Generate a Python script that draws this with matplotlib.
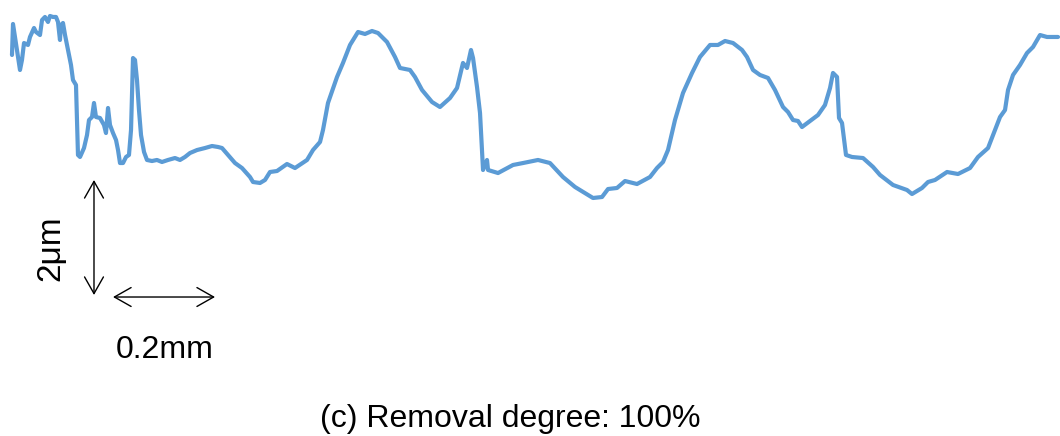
import matplotlib
matplotlib.use("Agg")
import matplotlib.pyplot as plt

plt.rcParams['font.family'] = ['Liberation Sans', 'DejaVu Sans']

# Surface profile: lateral position (mm) and height (um)
position_mm = [
    0.0235, 0.0255, 0.0333, 0.0392, 0.0431, 0.0471, 0.0549, 0.0588, 0.0667, 0.0706,
    0.0784, 0.0824, 0.0882, 0.0941, 0.0980, 0.1039, 0.1098, 0.1137, 0.1176, 0.1196,
    0.1235, 0.1275, 0.1333, 0.1392, 0.1431, 0.1490, 0.1529, 0.1569, 0.1647, 0.1706,
    0.1745, 0.1804, 0.1843, 0.1882, 0.1961, 0.2039, 0.2078, 0.2118, 0.2157, 0.2216,
    0.2275, 0.2314, 0.2353, 0.2412, 0.2471, 0.2529, 0.2569, 0.2608, 0.2647, 0.2686,
    0.2725, 0.2765, 0.2824, 0.2882, 0.2980, 0.3078, 0.3176, 0.3294, 0.3431, 0.3529,
    0.3627, 0.3725, 0.3863, 0.4020, 0.4157, 0.4275, 0.4353, 0.4471, 0.4608, 0.4745,
    0.4902, 0.4961, 0.5098, 0.5196, 0.5294, 0.5431, 0.5627, 0.5784, 0.6020, 0.6137,
    0.6275, 0.6333, 0.6431, 0.6608, 0.6725, 0.6863, 0.7020, 0.7157, 0.7294, 0.7412,
    0.7588, 0.7745, 0.7843, 0.8039, 0.8137, 0.8275, 0.8471, 0.8627, 0.8824, 0.8961,
    0.9078, 0.9157, 0.9235, 0.9275, 0.9353, 0.9412, 0.9471, 0.9549, 0.9569, 0.9765,
    1.0059, 1.0255, 1.0549, 1.0784, 1.1039, 1.1275, 1.1627, 1.1804, 1.1922, 1.2098,
    1.2255, 1.2490, 1.2745, 1.2882, 1.3000, 1.3098, 1.3235, 1.3392, 1.3569, 1.3725,
    1.3922, 1.4078, 1.4216, 1.4373, 1.4549, 1.4647, 1.4765, 1.4902, 1.5059, 1.5196,
    1.5353, 1.5451, 1.5549, 1.5647, 1.5725, 1.5882, 1.6039, 1.6176, 1.6275, 1.6333,
    1.6412, 1.6451, 1.6510, 1.6588, 1.6706, 1.6922, 1.7118, 1.7255, 1.7510, 1.7784,
    1.7882, 1.8078, 1.8196, 1.8333, 1.8569, 1.8784, 1.9020, 1.9176, 1.9373, 1.9510,
    1.9608, 1.9706, 1.9765, 1.9863, 2.0000, 2.0137, 2.0255, 2.0392, 2.0529, 2.0745,
]

height_um = [
    2.696, 3.235, 2.783, 2.435, 2.609, 2.904, 2.870, 3.009, 3.165, 3.096,
    3.043, 3.304, 3.357, 3.270, 3.374, 3.357, 3.357, 3.270, 2.957, 3.217,
    3.252, 3.043, 2.783, 2.522, 2.261, 2.174, 0.957, 0.922, 1.078, 1.304,
    1.565, 1.617, 1.861, 1.617, 1.600, 1.478, 1.339, 1.774, 1.478, 1.339,
    1.217, 1.043, 0.817, 0.817, 0.922, 0.957, 1.391, 2.643, 2.609, 2.261,
    1.739, 1.304, 1.009, 0.870, 0.852, 0.870, 0.835, 0.870, 0.904, 0.870,
    0.922, 0.991, 1.043, 1.078, 1.113, 1.096, 1.078, 0.957, 0.817, 0.730,
    0.574, 0.487, 0.470, 0.522, 0.661, 0.678, 0.800, 0.730, 0.870, 1.043,
    1.183, 1.391, 1.861, 2.313, 2.557, 2.870, 3.096, 3.061, 3.113, 3.078,
    2.922, 2.661, 2.470, 2.435, 2.313, 2.087, 1.878, 1.791, 1.948, 2.122,
    2.557, 2.470, 2.783, 2.643, 2.139, 1.687, 0.696, 0.870, 0.696, 0.643,
    0.783, 0.817, 0.870, 0.817, 0.574, 0.400, 0.209, 0.226, 0.365, 0.383,
    0.504, 0.452, 0.574, 0.730, 0.835, 1.043, 1.565, 2.035, 2.383, 2.661,
    2.870, 2.870, 2.939, 2.904, 2.783, 2.661, 2.435, 2.348, 2.296, 2.087,
    1.791, 1.704, 1.565, 1.548, 1.443, 1.548, 1.652, 1.826, 2.122, 2.383,
    2.313, 1.600, 1.513, 0.957, 0.922, 0.904, 0.748, 0.609, 0.435, 0.348,
    0.278, 0.383, 0.487, 0.522, 0.661, 0.626, 0.730, 0.922, 1.078, 1.391,
    1.617, 1.739, 2.087, 2.348, 2.522, 2.730, 2.835, 3.043, 3.009, 3.009,
]

# Scale bars
vbar_x_mm = 0.1843
vbar_top_um = 0.522
vbar_len_um = 2.0
vbar_label = "2μm"

hbar_y_um = -1.513
hbar_left_mm = 0.2216
hbar_len_mm = 0.2
hbar_label = "0.2mm"

caption = "(c) Removal degree: 100%"

line_color = "#5B9BD5"

fig = plt.figure(figsize=(10.6, 4.36), dpi=100)
ax = fig.add_axes([0, 0, 1, 1])
ax.set_xlim(0, 2.0784)
ax.set_ylim(-3.930, 3.652)
ax.axis("off")

ax.plot(position_mm, height_um, color=line_color, lw=3.0,
        solid_joinstyle="round", solid_capstyle="round")

arrow_kw = dict(arrowstyle="<->,head_length=0.6,head_width=0.34",
                mutation_scale=20, color="black", lw=1.0,
                shrinkA=0, shrinkB=0)
ax.annotate("", xy=(vbar_x_mm, vbar_top_um - vbar_len_um),
            xytext=(vbar_x_mm, vbar_top_um), arrowprops=arrow_kw)
ax.annotate("", xy=(hbar_left_mm + hbar_len_mm, hbar_y_um),
            xytext=(hbar_left_mm, hbar_y_um), arrowprops=arrow_kw)

ax.text(0.100, -0.66, vbar_label, rotation=90, fontsize=24,
        ha="center", va="center")
ax.text(0.3235, -2.43, hbar_label, fontsize=23, ha="center", va="center")
fig.text(510 / 1060, 1 - 419 / 436, caption,
         fontsize=23, ha="center", va="center")

fig.savefig("out.png", dpi=100, facecolor="white")
